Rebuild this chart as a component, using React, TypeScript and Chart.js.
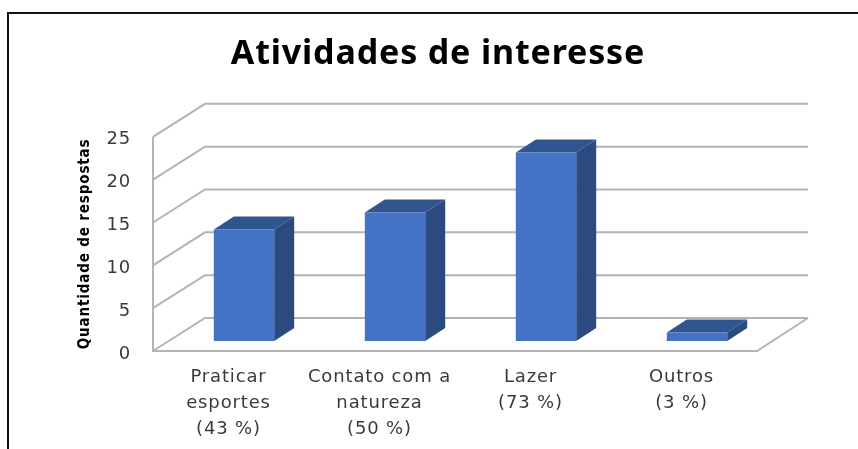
import React, { useEffect, useRef } from "react";
import { Chart, registerables } from "chart.js";

Chart.register(...registerables);

const categories = [
  ["Praticar", "esportes", "(43 %)"],
  ["Contato com a", "natureza", "(50 %)"],
  ["Lazer", "(73 %)"],
  ["Outros", "(3 %)"],
];
const respostas = [13, 15, 22, 1];
const yTicks = [0, 5, 10, 15, 20, 25];
const titleText = "Atividades de interesse";
const yAxisTitle = "Quantidade de respostas";

const W = 858;
const H = 449;
const WALL_DX = 52;
const WALL_DY = 33;
const WALL_RIGHT_EXT = 51;
const BAR_SHIFT_X = 15.5;
const BAR_SHIFT_Y = -10;
const BAR_DX = 20;
const BAR_DY = 13;
const GRID = "#b4b4b4";
const FRONT = "#4472c4";
const TOP = "#30558f";
const SIDE = "#2a4a80";

const frame3d = {
  id: "frame3d",
  afterLayout(chart: any) {
    if (chart.titleBlock) {
      chart.titleBlock.left = 0;
      chart.titleBlock.right = 876;
    }
  },
  beforeDraw(chart: any) {
    const { ctx, scales } = chart;
    const y = scales.y;
    const { left, right, bottom, top } = chart.chartArea;
    // the reference's text is stretched wide
    ctx.letterSpacing = "0.85px";
    ctx.save();
    ctx.fillStyle = "#ffffff";
    ctx.fillRect(0, 0, W, H);
    // outer frame
    ctx.strokeStyle = "#111111";
    ctx.lineWidth = 2;
    ctx.beginPath();
    ctx.moveTo(8, H);
    ctx.lineTo(8, 13);
    ctx.lineTo(W, 13);
    ctx.stroke();
    // walls and gridlines
    ctx.strokeStyle = GRID;
    ctx.lineWidth = 2;
    ctx.beginPath();
    ctx.moveTo(left, top);
    ctx.lineTo(left, bottom);
    ctx.lineTo(right, bottom);
    ctx.lineTo(right + WALL_RIGHT_EXT, bottom - WALL_DY);
    y.ticks.forEach((t: any) => {
      const py = y.getPixelForValue(t.value);
      ctx.moveTo(left, py);
      ctx.lineTo(left + WALL_DX, py - WALL_DY);
      ctx.lineTo(right + WALL_RIGHT_EXT, py - WALL_DY);
    });
    ctx.stroke();
    ctx.restore();
  },
  beforeDatasetDraw(chart: any, args: any) {
    const { ctx } = chart;
    const meta = chart.getDatasetMeta(args.index);
    ctx.save();
    ctx.translate(BAR_SHIFT_X, BAR_SHIFT_Y);
    meta.data.forEach((bar: any) => {
      const l = bar.x - bar.width / 2;
      const r = bar.x + bar.width / 2;
      ctx.fillStyle = TOP;
      ctx.beginPath();
      ctx.moveTo(l, bar.y);
      ctx.lineTo(l + BAR_DX, bar.y - BAR_DY);
      ctx.lineTo(r + BAR_DX, bar.y - BAR_DY);
      ctx.lineTo(r, bar.y);
      ctx.closePath();
      ctx.fill();
      ctx.fillStyle = SIDE;
      ctx.beginPath();
      ctx.moveTo(r, bar.y);
      ctx.lineTo(r + BAR_DX, bar.y - BAR_DY);
      ctx.lineTo(r + BAR_DX, bar.base - BAR_DY);
      ctx.lineTo(r, bar.base);
      ctx.closePath();
      ctx.fill();
    });
  },
  afterDatasetDraw(chart: any) {
    chart.ctx.restore();
  },
};

export default function App() {
  const ref = useRef<HTMLCanvasElement>(null);
  useEffect(() => {
    const chart = new Chart(ref.current as HTMLCanvasElement, {
      type: "bar",
      data: {
        labels: categories as any,
        datasets: [
          {
            data: respostas,
            backgroundColor: FRONT,
            barPercentage: 0.4,
            categoryPercentage: 1,
            clip: false as any,
          },
        ],
      },
      options: {
        responsive: false,
        animation: false,
        layout: { padding: { left: 76, right: 101, top: 0, bottom: 0 } },
        plugins: {
          legend: { display: false },
          tooltip: { enabled: false },
          title: {
            display: true,
            text: titleText,
            color: "#000000",
            font: { family: "'Noto Sans'", size: 34, weight: "bold", lineHeight: 1.2 },
            padding: { top: 34, bottom: 62 },
          },
        },
        scales: {
          x: {
            grid: { display: false },
            border: { display: false },
            afterFit: (s: any) => {
              s.height = H - 351;
            },
            ticks: {
              autoSkip: false,
              maxRotation: 0,
              minRotation: 0,
              padding: 6,
              color: "#3a3a3a",
              font: { family: "'DejaVu Sans'", size: 18, lineHeight: 1.42 },
            },
          },
          y: {
            min: 0,
            max: 25,
            afterBuildTicks: (s: any) => {
              s.ticks = yTicks.map((value) => ({ value }));
            },
            afterFit: (s: any) => {
              s.width = 77;
            },
            grid: { display: false },
            border: { display: false },
            title: {
              display: true,
              text: yAxisTitle,
              color: "#000000",
              padding: 0,
              font: { family: "'Liberation Sans Narrow', 'DejaVu Sans Condensed'", size: 15, weight: "bold", lineHeight: 1.2 },
            },
            ticks: {
              padding: 14,
              labelOffset: 3,
              color: "#3a3a3a",
              font: { family: "'DejaVu Sans'", size: 18 },
            },
          },
        },
      },
      plugins: [frame3d as any],
    });
    return () => chart.destroy();
  }, []);
  return (
    <div style={{ position: "fixed", left: 0, top: 0, width: W, height: H, overflow: "hidden", background: "#fff" }}>
      <canvas ref={ref} width={W} height={H} style={{ display: "block" }} />
    </div>
  );
}
